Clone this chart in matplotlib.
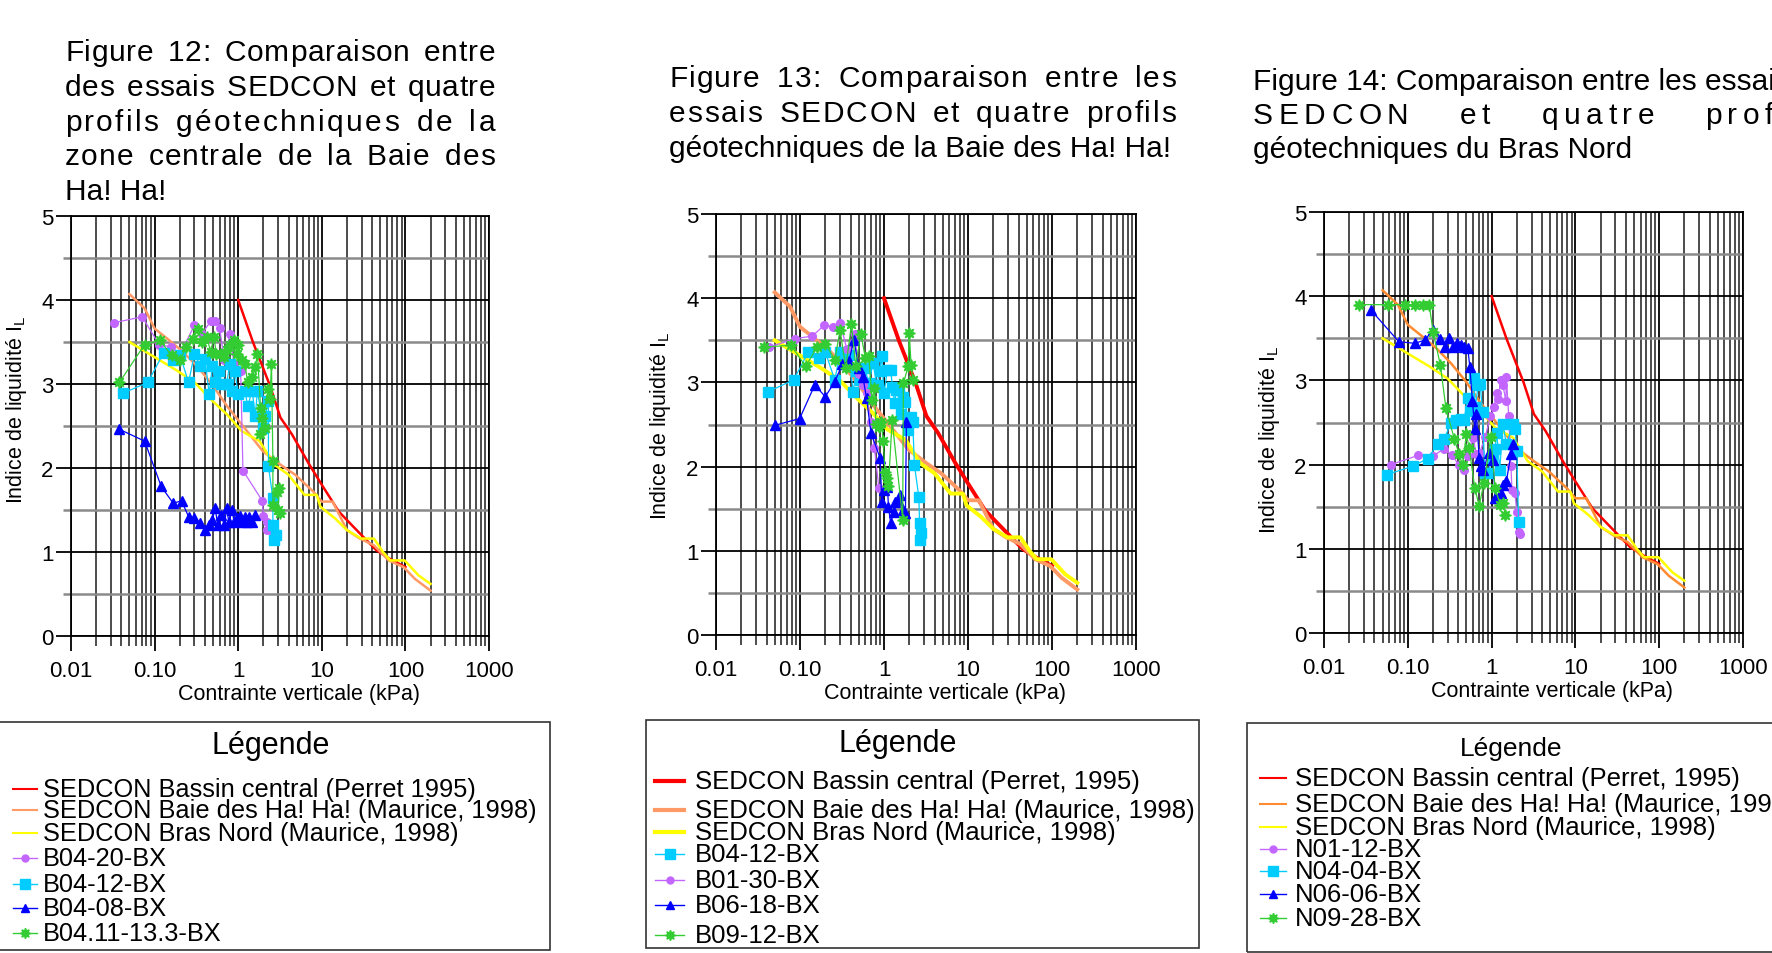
import matplotlib
matplotlib.use('Agg')
import matplotlib.pyplot as plt
from matplotlib.lines import Line2D
from matplotlib.patches import Rectangle
from matplotlib.ticker import FixedLocator, FixedFormatter, LogLocator, MultipleLocator, NullFormatter

plt.rcParams['font.family'] = ['Liberation Sans', 'DejaVu Sans']

# ---- reference SEDCON curves (same on the three panels) ----
red_x = [1, 1.5, 2.4, 3.2, 4.4, 7, 10, 16, 25, 45, 65, 100]
red_y = [4.0, 3.5, 2.98, 2.6, 2.4, 2.05, 1.8, 1.48, 1.28, 1.02, 0.92, 0.82]
orange_x = [0.05, 0.076, 0.1, 0.15, 0.22, 0.33, 0.5, 0.73, 1.1, 1.97, 3.2, 4.8, 7.9, 10, 13.5, 20, 28.5, 42, 63, 95, 130, 200]
orange_y = [4.07, 3.9, 3.66, 3.52, 3.38, 3.2, 2.98, 2.74, 2.52, 2.2, 2.04, 1.92, 1.72, 1.6, 1.6, 1.26, 1.16, 1.08, 0.9, 0.82, 0.68, 0.54]
yellow_x = [0.05, 0.185, 0.3, 0.49, 0.73, 1.1, 1.8, 2.7, 4.0, 6.2, 8.7, 9.6, 14.4, 20, 29.6, 42, 54, 66, 98, 144, 200]
yellow_y = [3.5, 3.16, 3.02, 2.8, 2.64, 2.44, 2.32, 2.04, 1.92, 1.68, 1.68, 1.54, 1.4, 1.26, 1.16, 1.16, 1.0, 0.9, 0.9, 0.72, 0.62]

# ---- Figure 12 profiles ----
b0420_x = [0.033, 0.071, 0.113, 0.159, 0.2, 0.3, 0.37, 0.47, 0.53, 0.6, 0.68, 0.8, 0.89, 1.07, 1.14, 1.94, 2.0, 2.2, 2.2, 2.4, 2.5]
b0420_y = [3.73, 3.8, 3.47, 3.44, 3.35, 3.7, 3.6, 3.75, 3.75, 3.67, 3.28, 3.6, 3.24, 3.16, 1.97, 1.61, 1.43, 1.36, 1.26, 1.3, 1.26]
b0412_x = [0.042, 0.083, 0.128, 0.167, 0.2, 0.255, 0.3, 0.35, 0.4, 0.45, 0.49, 0.53, 0.59, 0.63, 0.73, 0.79, 0.85, 0.91, 1.0, 1.2, 1.3, 1.47, 1.6, 1.7, 2.0, 2.1, 2.3, 2.3, 2.6, 2.6, 2.8, 2.65]
b0412_y = [2.89, 3.02, 3.37, 3.28, 3.35, 3.02, 3.36, 3.22, 3.3, 2.88, 3.21, 3.02, 3.16, 3.0, 3.0, 3.24, 2.92, 3.16, 2.88, 2.92, 2.74, 2.92, 2.62, 2.92, 2.48, 2.62, 2.8, 2.02, 1.64, 1.32, 1.2, 1.14]
b0408_x = [0.038, 0.076, 0.12, 0.167, 0.21, 0.255, 0.3, 0.35, 0.4, 0.45, 0.49, 0.53, 0.57, 0.63, 0.68, 0.73, 0.77, 0.85, 0.89, 0.97, 1.04, 1.1, 1.2, 1.27, 1.35, 1.45, 1.6]
b0408_y = [2.46, 2.32, 1.78, 1.58, 1.61, 1.42, 1.4, 1.34, 1.26, 1.32, 1.38, 1.52, 1.32, 1.44, 1.32, 1.52, 1.36, 1.5, 1.36, 1.4, 1.43, 1.36, 1.42, 1.36, 1.42, 1.36, 1.44]
b0411_x = [0.038, 0.076, 0.115, 0.16, 0.2, 0.24, 0.29, 0.33, 0.37, 0.42, 0.47, 0.51, 0.55, 0.62, 0.68, 0.73, 0.8, 0.89, 0.97, 1.0, 1.1, 1.2, 1.3, 1.47, 1.6, 1.7, 1.85, 1.94, 2.1, 1.8, 2.3, 2.4, 2.5, 2.6, 2.6, 2.9, 3.1, 3.0, 3.2]
b0411_y = [3.02, 3.47, 3.52, 3.34, 3.28, 3.44, 3.54, 3.65, 3.5, 3.56, 3.38, 3.56, 3.36, 3.36, 3.32, 3.4, 3.46, 3.52, 3.36, 3.46, 3.28, 3.24, 3.02, 3.08, 3.2, 3.36, 2.72, 2.6, 2.48, 2.4, 2.94, 2.82, 3.24, 2.08, 1.56, 1.72, 1.76, 1.5, 1.46]

# ---- Figure 13 profiles ----
b0412b_x = [0.042, 0.084, 0.126, 0.17, 0.2, 0.26, 0.3, 0.33, 0.38, 0.43, 0.47, 0.52, 0.59, 0.66, 0.74, 0.82, 0.89, 0.94, 1.0, 1.1, 1.2, 1.26, 1.34, 1.4, 1.5, 1.6, 1.7, 1.8, 1.95, 2.1, 2.2, 2.3, 2.6, 2.65, 2.75, 2.65]
b0412b_y = [2.89, 3.03, 3.36, 3.29, 3.36, 3.03, 3.36, 3.27, 3.32, 2.89, 3.14, 3.03, 3.17, 2.99, 3.23, 2.97, 3.13, 3.31, 2.87, 3.15, 3.15, 2.95, 2.75, 2.91, 2.91, 2.63, 2.83, 2.77, 2.43, 2.59, 2.53, 2.02, 1.64, 1.33, 1.21, 1.13]
b0130_x = [0.043, 0.088, 0.14, 0.195, 0.25, 0.3, 0.36, 0.45, 0.5, 0.56, 0.62, 0.7, 0.77, 0.87]
b0130_y = [3.42, 3.52, 3.55, 3.68, 3.66, 3.71, 3.4, 3.57, 3.1, 2.97, 2.88, 2.53, 2.22, 1.74]
b0618_x = [0.05, 0.099, 0.15, 0.2, 0.26, 0.32, 0.38, 0.44, 0.5, 0.56, 0.62, 0.7, 0.9, 0.94, 1.0, 1.1, 1.13, 1.2, 1.3, 1.34, 1.45, 1.57, 1.7, 1.8, 1.85]
b0618_y = [2.49, 2.57, 2.97, 2.83, 3.01, 3.22, 3.25, 3.5, 3.17, 3.07, 2.81, 2.4, 2.1, 1.58, 1.72, 1.76, 1.52, 1.33, 1.46, 1.58, 1.6, 1.66, 1.48, 1.45, 2.53]
b0912_x = [0.037, 0.078, 0.117, 0.16, 0.2, 0.26, 0.3, 0.35, 0.41, 0.46, 0.53, 0.6, 0.66, 0.72, 0.77, 0.8, 0.87, 0.93, 0.98, 1.03, 1.1, 1.13, 1.25, 1.67, 1.7, 1.94, 2.0, 2.1, 2.2]
b0912_y = [3.42, 3.44, 3.19, 3.42, 3.46, 3.27, 3.62, 3.17, 3.69, 3.2, 3.58, 3.29, 3.31, 2.79, 2.93, 2.51, 2.47, 2.53, 2.3, 1.94, 1.86, 1.77, 2.55, 1.37, 2.99, 3.19, 3.59, 3.21, 3.03]

# ---- Figure 14 profiles ----
n0112_x = [0.063, 0.133, 0.2, 0.27, 0.34, 0.41, 0.47, 0.53, 0.6, 0.66, 0.72, 0.84, 0.97, 1.07, 1.15, 1.2, 1.28, 1.37, 1.48, 1.5, 1.6, 1.7, 1.75, 1.9, 2.0, 2.1, 2.2]
n0112_y = [2.0, 2.11, 2.1, 2.19, 2.11, 1.99, 1.93, 2.1, 2.32, 2.12, 2.14, 2.33, 2.58, 2.68, 2.85, 2.78, 3.0, 2.94, 2.75, 3.04, 2.58, 1.98, 1.7, 1.66, 1.44, 1.2, 1.18]
n0404_x = [0.056, 0.114, 0.172, 0.23, 0.27, 0.33, 0.38, 0.43, 0.47, 0.52, 0.55, 0.61, 0.64, 0.69, 0.73, 0.78, 0.83, 0.91, 1.02, 1.1, 1.15, 1.25, 1.37, 1.5, 1.8, 1.9, 2.0, 2.1]
n0404_y = [1.88, 1.98, 2.07, 2.25, 2.3, 2.5, 2.53, 2.54, 2.53, 2.79, 2.64, 3.03, 2.68, 2.94, 2.96, 2.62, 1.9, 1.9, 2.08, 2.18, 2.38, 1.94, 2.48, 2.24, 2.48, 2.42, 2.16, 1.32]
n0606_x = [0.036, 0.078, 0.122, 0.16, 0.2, 0.24, 0.28, 0.31, 0.35, 0.39, 0.43, 0.47, 0.52, 0.55, 0.59, 0.63, 0.66, 0.71, 0.74, 0.8, 0.92, 1.04, 1.1, 1.2, 1.3, 1.37, 1.5, 1.7, 1.8]
n0606_y = [3.84, 3.46, 3.44, 3.48, 3.6, 3.49, 3.4, 3.5, 3.4, 3.44, 3.42, 3.4, 3.38, 3.16, 2.76, 2.42, 2.6, 2.08, 1.98, 1.94, 2.14, 2.06, 1.6, 1.6, 1.66, 1.76, 1.8, 2.12, 2.24]
n0928_x = [0.026, 0.058, 0.093, 0.122, 0.153, 0.18, 0.2, 0.245, 0.285, 0.36, 0.41, 0.45, 0.5, 0.54, 0.63, 0.71, 0.81, 0.98, 1.1, 1.27, 1.37, 1.46]
n0928_y = [3.9, 3.9, 3.9, 3.9, 3.9, 3.9, 3.58, 3.18, 2.67, 2.3, 2.12, 2.0, 2.36, 2.2, 1.72, 1.51, 1.78, 2.33, 1.72, 1.52, 1.54, 1.4]

xticks = [0.01, 0.1, 1, 10, 100, 1000]
xtick_labels = ['0.01', '0.10', '1', '10', '100', '1000']

RED, YELLOW, PURPLE, CYAN, BLUE, GREEN = '#ff0000', '#ffff00', '#c266ff', '#00ccff', '#0000ff', '#33cc33'
STAR = (8, 1, 0)

W, H = 1772, 954
fig = plt.figure(figsize=(W / 100, H / 100), dpi=100)
renderer = fig.canvas.get_renderer()


def fx(x):
    return x / W


def fy(y):
    return 1 - y / H


def make_axes(x0, y0, x1, y1, ylab_y):
    ax = fig.add_axes([fx(x0), fy(y1), (x1 - x0) / W, (y1 - y0) / H])
    ax.set_xscale('log')
    ax.set_xlim(0.01, 1000)
    ax.set_ylim(0, 5)
    ax.xaxis.set_major_locator(FixedLocator(xticks))
    ax.xaxis.set_major_formatter(FixedFormatter(xtick_labels))
    ax.xaxis.set_minor_locator(LogLocator(base=10, subs=range(2, 10), numticks=20))
    ax.xaxis.set_minor_formatter(NullFormatter())
    ax.yaxis.set_major_locator(MultipleLocator(1))
    ax.yaxis.set_minor_locator(MultipleLocator(0.5))
    ax.grid(which='major', axis='both', color='black', lw=1.3)
    ax.grid(which='minor', axis='x', color='#2e2e2e', lw=1.2)
    ax.grid(which='minor', axis='y', color='#8a8a8a', lw=1.8)
    ax.tick_params(axis='x', which='major', length=11, width=1.3, pad=6, labelsize=16)
    ax.tick_params(axis='x', which='minor', length=7, width=1.2, color='#2e2e2e')
    ax.tick_params(axis='y', which='major', length=11, width=1.3, pad=1.5, labelsize=16)
    ax.tick_params(axis='y', which='minor', length=6, width=1.8, color='#8a8a8a')
    for s in ax.spines.values():
        s.set_linewidth(1.3)
    ax.set_axisbelow(True)
    ax.set_xlabel('Contrainte verticale (kPa)', fontsize=15.5)
    ax.set_ylabel('Indice de liquidité I$_\\mathregular{L}$', fontsize=15.5)
    ax.xaxis.label.set_va('center')
    ax.yaxis.label.set_va('center')
    ax.xaxis.set_label_coords(0.545, -0.137)
    ax.yaxis.set_label_coords(-0.131, ylab_y)
    return ax


def text_w(s, size):
    t = fig.text(0, 0, s, fontsize=size)
    w = t.get_window_extent(renderer).width
    t.remove()
    return w


def justify(line, x0, x1, y, size, ratio=None, letter=None):
    # spread a line between x0 and x1: either by a ratio of word gap to letter gap,
    # or with a fixed extra spacing between letters and the rest put in the word gaps
    if ratio is None and letter is None:
        fig.text(fx(x0), fy(y), line, fontsize=size, va='baseline')
        return
    sp = text_w('a a', size) - text_w('aa', size)
    chars = list(line)
    widths = [sp if c == ' ' else text_w(c, size) for c in chars]
    n = len(chars) - 1
    word_gap = [chars[i] == ' ' or chars[i + 1] == ' ' for i in range(n)]
    free = (x1 - x0) - sum(widths)
    if letter is not None:
        n_word = sum(word_gap)
        extras = [(free - letter * (n - n_word)) / n_word if word_gap[i] else letter for i in range(n)]
    else:
        weights = [ratio / 2 if word_gap[i] else 1 for i in range(n)]
        unit = free / sum(weights)
        extras = [w * unit for w in weights]
    x = x0
    for i, c in enumerate(chars):
        if c != ' ':
            fig.text(fx(x), fy(y), c, fontsize=size, va='baseline')
        x += widths[i] + (extras[i] if i < n else 0)


def legend_box(x0, y0, x1, y1, title, tx, ty, tsize, entries, hx0, hx1, lx, ys, size):
    fig.patches.append(Rectangle((fx(x0), fy(y1)), (x1 - x0) / W, (y1 - y0) / H, transform=fig.transFigure,
                                 fill=False, edgecolor='#333333', lw=1.2))
    fig.text(fx(tx), fy(ty), title, fontsize=tsize, ha='center', va='center')
    for (label, color, lw, marker, ms), y in zip(entries, ys):
        fig.lines.append(Line2D([fx(hx0), fx(hx1)], [fy(y), fy(y)], transform=fig.transFigure,
                                color=color, lw=lw))
        if marker:
            fig.lines.append(Line2D([fx((hx0 + hx1) / 2)], [fy(y)], transform=fig.transFigure,
                                    color=color, marker=marker, ms=ms, lw=0))
        fig.text(fx(lx), fy(y), label, fontsize=size, va='center')


def draw_refs(ax, orange, red_lw, ref_lw):
    ax.plot(red_x, red_y, color=RED, lw=red_lw, zorder=3)
    ax.plot(orange_x, orange_y, color=orange, lw=ref_lw, zorder=3)
    ax.plot(yellow_x, yellow_y, color=YELLOW, lw=ref_lw, zorder=3)


def series(ax, x, y, color, marker, ms):
    ax.plot(x, y, color=color, lw=0.9, marker=marker, ms=ms, mec=color, mfc=color, zorder=4)


# ---------------- Figure 12 ----------------
ax1 = make_axes(71, 217, 489, 637, 0.54)
draw_refs(ax1, '#ff9966', 1.8, 1.8)
series(ax1, b0420_x, b0420_y, PURPLE, 'o', 5.5)
series(ax1, b0412_x, b0412_y, CYAN, 's', 7.5)
series(ax1, b0408_x, b0408_y, BLUE, '^', 6.5)
series(ax1, b0411_x, b0411_y, GREEN, STAR, 8.5)

t1 = ['Figure 12: Comparaison entre', 'des essais SEDCON et quatre', 'profils géotechniques de la',
      'zone centrale de la Baie des', 'Ha! Ha!']
for line, y, r in zip(t1, [61, 96, 131, 165, 200], [8, 8, 4, 6, None]):
    justify(line, 65, 495, y, 21.5, ratio=r)

legend_box(-5, 723, 550, 951, 'Légende', 271, 746, 22,
           [('SEDCON Bassin central (Perret 1995)', RED, 1.5, None, 0),
            ('SEDCON Baie des Ha! Ha! (Maurice, 1998)', '#ff9966', 1.5, None, 0),
            ('SEDCON Bras Nord (Maurice, 1998)', YELLOW, 1.5, None, 0),
            ('B04-20-BX', PURPLE, 1.0, 'o', 5),
            ('B04-12-BX', CYAN, 1.0, 's', 6.5),
            ('B04-08-BX', BLUE, 1.0, '^', 6),
            ('B04.11-13.3-BX', GREEN, 1.0, STAR, 7.5)],
           13, 37, 43, [790, 811, 834, 859, 885, 909, 934], 18.3)

# ---------------- Figure 13 ----------------
ax2 = make_axes(716, 215, 1136, 636, 0.50)
draw_refs(ax2, '#ff9966', 2.8, 2.8)
series(ax2, b0412b_x, b0412b_y, CYAN, 's', 7.5)
series(ax2, b0130_x, b0130_y, PURPLE, 'o', 5.5)
series(ax2, b0618_x, b0618_y, BLUE, '^', 6.5)
series(ax2, b0912_x, b0912_y, GREEN, STAR, 8.5)

t2 = ['Figure 13: Comparaison entre les', 'essais SEDCON et quatre profils',
      'géotechniques de la Baie des Ha! Ha!']
for line, y, r in zip(t2, [87, 122, 157], [8, 5, None]):
    justify(line, 669, 1176, y, 21.5, ratio=r)

legend_box(646, 721, 1199, 949, 'Légende', 898, 744, 22,
           [('SEDCON Bassin central (Perret, 1995)', RED, 3, None, 0),
            ('SEDCON Baie des Ha! Ha! (Maurice, 1998)', '#ff9966', 3, None, 0),
            ('SEDCON Bras Nord (Maurice, 1998)', YELLOW, 3, None, 0),
            ('B04-12-BX', CYAN, 1.0, 's', 6.5),
            ('B01-30-BX', PURPLE, 1.0, 'o', 5),
            ('B06-18-BX', BLUE, 1.0, '^', 6),
            ('B09-12-BX', GREEN, 1.0, STAR, 7.5)],
           655, 684, 695, [782, 811, 833, 855, 881, 906, 936], 18.5)

# ---------------- Figure 14 ----------------
ax3 = make_axes(1324, 213, 1743, 634, 0.46)
draw_refs(ax3, '#ff8c33', 1.8, 1.8)
series(ax3, n0112_x, n0112_y, PURPLE, 'o', 5.5)
series(ax3, n0404_x, n0404_y, CYAN, 's', 7.5)
series(ax3, n0606_x, n0606_y, BLUE, '^', 6.5)
series(ax3, n0928_x, n0928_y, GREEN, STAR, 8.5)

t3 = ['Figure 14: Comparaison entre les essais', 'SEDCON et quatre profils', 'géotechniques du Bras Nord']
justify(t3[0], 1253, 1900, 90, 21.5)
justify(t3[1], 1253, 1818, 124, 21.5, letter=5.5)
justify(t3[2], 1253, 1900, 158, 21.5)

legend_box(1247, 724, 1850, 953, 'Légende', 1511, 749, 19,
           [('SEDCON Bassin central (Perret, 1995)', RED, 1.5, None, 0),
            ('SEDCON Baie des Ha! Ha! (Maurice, 1998)', '#ff8c33', 1.5, None, 0),
            ('SEDCON Bras Nord (Maurice, 1998)', YELLOW, 1.5, None, 0),
            ('N01-12-BX', PURPLE, 1.0, 'o', 5),
            ('N04-04-BX', CYAN, 1.0, 's', 6.5),
            ('N06-06-BX', BLUE, 1.0, '^', 6),
            ('N09-28-BX', GREEN, 1.0, STAR, 7.5)],
           1260, 1286, 1295, [779, 805, 828, 850, 872, 895, 919], 18.5)

fig.savefig('out.png', dpi=100)
